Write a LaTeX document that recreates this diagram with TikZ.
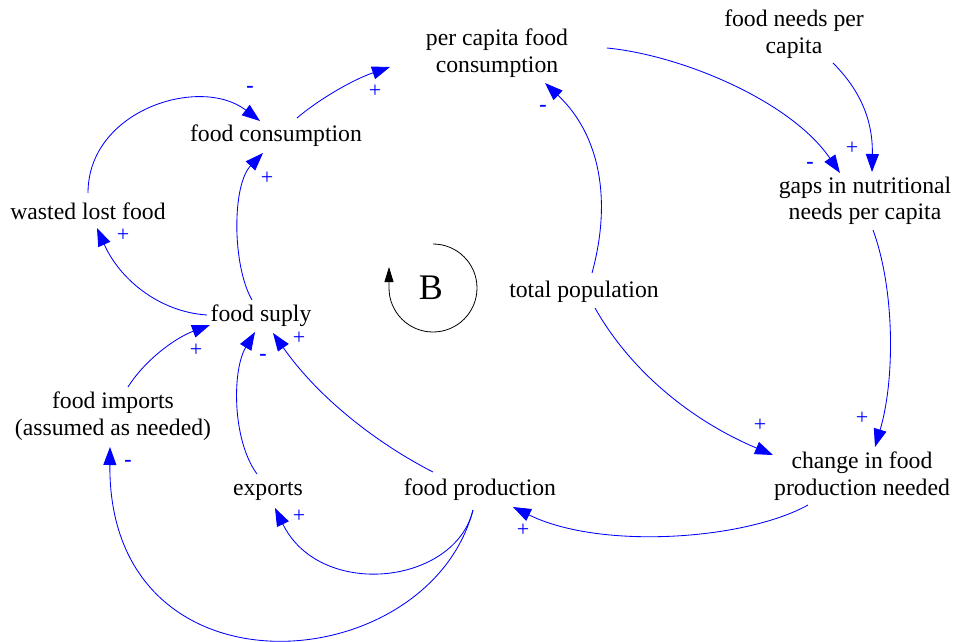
\documentclass[tikz,border=0pt]{standalone}
\usepackage{fontspec}
\setmainfont{Liberation Serif}
\usetikzlibrary{arrows.meta,calc}
\begin{document}
\begin{tikzpicture}[x=1pt,y=-1pt,
  var/.style={font=\fontsize{23.7}{26.5}\selectfont, align=center, inner sep=0pt},
  link/.style={draw=blue, line width=0.85pt, -{Triangle[length=18pt,width=13pt]}},
  pol/.style={text=blue, font=\fontsize{22}{22}\selectfont, inner sep=0pt},
  neg/.style={pol, font=\fontsize{22}{22}\selectfont\bfseries}]
\useasboundingbox (0,0) rectangle (953,642);

% variables
\node[var] (pcfc) at (497,53) {per capita food\\consumption};
\node[var] (fnpc) at (794,34) {food needs per\\capita};
\node[var] (fc)   at (276,136) {food consumption};
\node[var] (wlf)  at (88,211) {wasted lost food};
\node[var] (gaps) at (865,201) {gaps in nutritional\\needs per capita};
\node[var] (fs)   at (261,316) {food suply};
\node[var] (tp)   at (584,292) {total population};
\node[var] (fi)   at (113,416) {food imports\\(assumed as needed)};
\node[var] (ex)   at (268,491) {exports};
\node[var] (fp)   at (480,490) {food production};
\node[var] (chg)  at (862,476) {change in food\\production needed};

% loop marker
\node[font=\fontsize{36}{36}\selectfont, inner sep=0pt] (B) at (431,288) {B};
\draw[line width=0.8pt, -{Triangle[length=15pt,width=9pt]}] ($(B)+(2,-44)$) arc[start angle=-90, end angle=180, radius=44] -- ++(0,-21);

% links
\draw[link] ($(fc)+(21,-18)$) .. controls (318,100) and (352,80) .. ($(pcfc)+(-107,14)$);
\draw[link] ($(wlf)+(0,-18)$) .. controls (88,110) and (200,75) .. ($(fc)+(-16,-15)$);
\draw[link] ($(fs)+(-9,-16)$) .. controls (232,265) and (232,185) .. ($(fc)+(-13,17)$);
\draw[link] ($(fs)+(-54,-1)$) .. controls (160,312) and (120,280) .. ($(wlf)+(9,17)$);
\draw[link] ($(pcfc)+(110,-5)$) .. controls (680,55) and (790,100) .. ($(gaps)+(-25,-28)$);
\draw[link] ($(fnpc)+(39,29)$) .. controls (860,90) and (873,120) .. ($(gaps)+(7,-29)$);
\draw[link] ($(tp)+(8,-19)$) .. controls (612,200) and (600,135) .. ($(pcfc)+(48,30)$);
\draw[link] ($(gaps)+(8,29)$) .. controls (895,290) and (895,380) .. ($(chg)+(13,-29)$);
\draw[link] ($(tp)+(11,16)$) .. controls (630,370) and (690,420) .. ($(chg)+(-89,-21)$);
\draw[link] ($(chg)+(-54,29)$) .. controls (745,540) and (600,550) .. ($(fp)+(33,17)$);
\draw[link] ($(fp)+(-47,-18)$) .. controls (380,445) and (320,400) .. ($(fs)+(12,17)$);
\draw[link] ($(ex)+(-11,-17)$) .. controls (232,440) and (232,370) .. ($(fs)+(-6,16)$);
\draw[link] ($(fi)+(15,-29)$) .. controls (145,360) and (175,338) .. ($(fs)+(-51,9)$);
\draw[link] ($(fp)+(-7,20)$) .. controls (455,585) and (320,600) .. ($(ex)+(7,17)$);
\draw[link] ($(fp)+(-7,20)$) .. controls (428,680) and (108,705) .. ($(fi)+(-3,31)$);

% polarities
\node[pol] (s1)  at (375,91)  {+};
\node[neg] (s2)  at (250,89)  {-};
\node[pol] (s3)  at (267,178) {+};
\node[pol] (s4)  at (123,235) {+};
\node[neg] (s5)  at (810,165) {-};
\node[pol] (s6)  at (852,148) {+};
\node[neg] (s7)  at (543,108) {-};
\node[pol] (s8)  at (862,418) {+};
\node[pol] (s9)  at (760,425) {+};
\node[pol] (s10) at (523,530) {+};
\node[pol] (s11) at (299,338) {+};
\node[neg] (s12) at (263,357) {-};
\node[pol] (s13) at (196,350) {+};
\node[pol] (s14) at (299,516) {+};
\node[neg] (s15) at (128,463) {-};
\end{tikzpicture}
\end{document}
